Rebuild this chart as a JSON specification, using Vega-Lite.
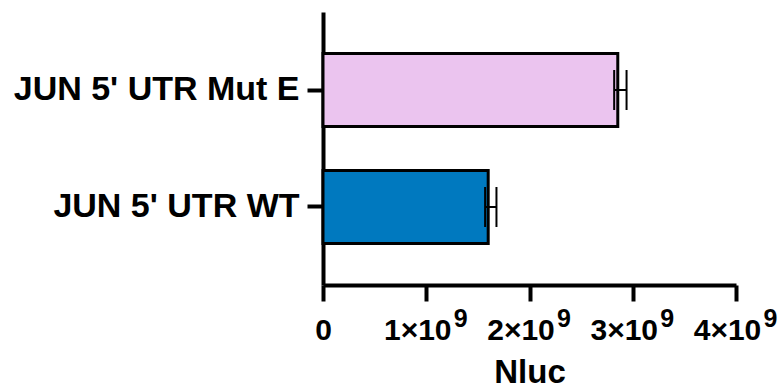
{
  "$schema": "https://vega.github.io/schema/vega-lite/v6.json",
  "autosize": {"type": "none"},
  "padding": {"left": 323, "top": 12, "right": 47, "bottom": 107},
  "width": 413,
  "height": 273,
  "background": "white",
  "config": {
    "view": {"stroke": null},
    "font": "Liberation Sans"
  },
  "data": {
    "values": [
      {"name": "JUN 5' UTR Mut E", "mean": 2855000000, "lo": 2820000000, "hi": 2940000000, "color": "#EBC4EF"},
      {"name": "JUN 5' UTR WT", "mean": 1600000000, "lo": 1570000000, "hi": 1680000000, "color": "#0079BF"}
    ]
  },
  "resolve": {"axis": {"x": "independent"}},
  "encoding": {
    "y": {
      "field": "name",
      "type": "nominal",
      "sort": ["JUN 5' UTR Mut E", "JUN 5' UTR WT"],
      "scale": {"paddingInner": 0.376, "paddingOuter": 0.355},
      "axis": {
        "title": null,
        "domainColor": "black",
        "domainWidth": 4,
        "tickColor": "black",
        "tickWidth": 4,
        "tickSize": 16,
        "labelFontSize": 34,
        "labelFontWeight": "bold",
        "labelColor": "black",
        "labelPadding": 8,
        "labelLimit": 0,
        "labelFont": "Liberation Sans"
      }
    }
  },
  "layer": [
    {
      "mark": {"type": "bar", "stroke": "black", "strokeWidth": 3},
      "encoding": {
        "x": {
          "field": "mean",
          "type": "quantitative",
          "scale": {"domain": [0, 4000000000], "nice": false},
          "axis": {
            "orient": "bottom",
            "title": "Nluc",
            "titleFontSize": 33,
            "titleFontWeight": "bold",
            "titleColor": "black",
            "titlePadding": 11,
            "values": [0, 1000000000, 2000000000, 3000000000, 4000000000],
            "labelExpr": "datum.value == 0 ? '0' : (datum.value / 1000000000) + '×10'",
            "labelOffset": {"condition": {"test": "datum.value == 0", "value": 0}, "value": -9},
            "domainColor": "black",
            "domainWidth": 4,
            "tickColor": "black",
            "tickWidth": 4,
            "tickSize": 16,
            "labelFontSize": 30,
            "labelFontWeight": "bold",
            "labelColor": "black",
            "labelPadding": 14,
            "labelLimit": 0,
            "labelOverlap": false,
            "labelFlush": false,
            "labelBound": false,
            "labelFont": "Liberation Sans",
            "grid": false
          }
        },
        "fill": {"field": "color", "type": "nominal", "scale": null}
      }
    },
    {
      "mark": {"type": "rule", "color": "black", "strokeWidth": 2},
      "encoding": {
        "x": {"field": "lo", "type": "quantitative", "axis": null},
        "x2": {"field": "hi"}
      }
    },
    {
      "mark": {"type": "tick", "color": "black", "opacity": 1, "thickness": 2, "size": 40},
      "encoding": {
        "x": {
          "field": "lo",
          "type": "quantitative",
          "axis": {
            "orient": "bottom",
            "title": null,
            "domain": false,
            "ticks": true,
            "tickOpacity": 0,
            "tickSize": 16,
            "grid": false,
            "values": [0, 1000000000, 2000000000, 3000000000, 4000000000],
            "labelExpr": "datum.value == 0 ? '' : '9'",
            "labelOffset": 34,
            "labelFontSize": 25,
            "labelFontWeight": "bold",
            "labelColor": "black",
            "labelPadding": 5,
            "labelLimit": 0,
            "labelOverlap": false,
            "labelFlush": false,
            "labelBound": false,
            "labelFont": "Liberation Sans"
          }
        }
      }
    },
    {
      "mark": {"type": "tick", "color": "black", "opacity": 1, "thickness": 2, "size": 40},
      "encoding": {
        "x": {"field": "hi", "type": "quantitative", "axis": null}
      }
    }
  ]
}
